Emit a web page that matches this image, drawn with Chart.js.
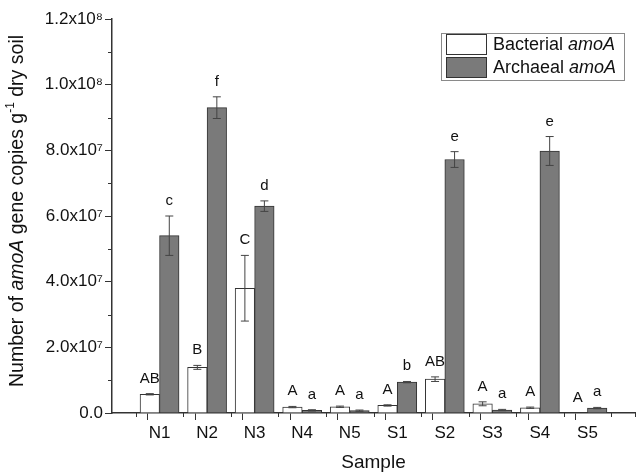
<!DOCTYPE html>
<html>
<head>
<meta charset="utf-8">
<script src="https://cdn.jsdelivr.net/npm/chart.js@4/dist/chart.umd.min.js"></script>
<style>
    html, body { margin: 0; padding: 0; background: #fff; }
    #wrap { width: 638px; height: 474px; }
</style>
</head>
<body>
<div id="wrap"><canvas id="amoaChart"></canvas></div>
<script>
const samples = ['N1', 'N2', 'N3', 'N4', 'N5', 'S1', 'S2', 'S3', 'S4', 'S5'];
const bacterial = [5.7e6, 1.39e7, 3.8e7, 1.8e6, 1.9e6, 2.3e6, 1.03e7, 2.8e6, 1.6e6, 0];
const bacterialErr = [0.2e6, 0.6e6, 1.0e7, 0.2e6, 0.2e6, 0.2e6, 0.7e6, 0.6e6, 0.2e6, 0];
const archaeal = [5.4e7, 9.3e7, 6.3e7, 0.8e6, 0.7e6, 9.4e6, 7.72e7, 0.9e6, 7.98e7, 1.5e6];
const archaealErr = [6.0e6, 3.3e6, 1.6e6, 0.2e6, 0.2e6, 0.2e6, 2.4e6, 0.2e6, 4.4e6, 0.2e6];
const bacterialLetters = ['AB', 'B', 'C', 'A', 'A', 'A', 'AB', 'A', 'A', 'A'];
const archaealLetters = ['c', 'f', 'd', 'a', 'a', 'b', 'e', 'a', 'e', 'a'];
const yTickLabels = ['0.0', '2.0x10\u2077', '4.0x10\u2077', '6.0x10\u2077', '8.0x10\u2077', '1.0x10\u2078', '1.2x10\u2078'];

const FONT = '"Liberation Sans", Arial, sans-serif';
const AXIS = '#333';
const errors = [bacterialErr, archaealErr];
const letters = [bacterialLetters, archaealLetters];

function isMajorX(v) {
    return Number.isInteger(v) && v <= samples.length;
}
function isMajorY(v) {
    return Math.round(v / 1e7) % 2 == 0;
}

// error bars + significance letters
const errorBarPlugin = {
    id: 'errorBars',
    afterDatasetsDraw(chart) {
        const ctx = chart.ctx;
        const y = chart.scales.y;
        ctx.save();
        for (let d = 0; d < chart.data.datasets.length; d++) {
            const meta = chart.getDatasetMeta(d);
            const vals = d == 0 ? bacterial : archaeal;
            for (let i = 0; i < meta.data.length; i++) {
                const bar = meta.data[i];
                const err = errors[d][i];
                const top = y.getPixelForValue(vals[i] + err);
                const bot = y.getPixelForValue(Math.max(vals[i] - err, 0));
                if (err > 0) {
                    ctx.strokeStyle = '#444';
                    ctx.lineWidth = 1;
                    ctx.beginPath();
                    ctx.moveTo(bar.x, top);
                    ctx.lineTo(bar.x, bot);
                    ctx.moveTo(bar.x - 4, top);
                    ctx.lineTo(bar.x + 4, top);
                    ctx.moveTo(bar.x - 4, bot);
                    ctx.lineTo(bar.x + 4, bot);
                    ctx.stroke();
                }
                ctx.fillStyle = '#111';
                ctx.font = '15px ' + FONT;
                ctx.textAlign = 'center';
                ctx.textBaseline = 'alphabetic';
                ctx.fillText(letters[d][i], bar.x, top - 11);
            }
        }
        ctx.restore();
    }
};

// draw a run of text pieces with mixed styles
function drawPieces(ctx, pieces, x, y) {
    let cx = x;
    for (const p of pieces) {
        ctx.font = p.font;
        ctx.fillText(p.text, cx, y + (p.dy || 0));
        cx += ctx.measureText(p.text).width;
    }
    return cx;
}

function piecesWidth(ctx, pieces) {
    let w = 0;
    for (const p of pieces) {
        ctx.font = p.font;
        w += ctx.measureText(p.text).width;
    }
    return w;
}

const decorPlugin = {
    id: 'decor',
    afterDraw(chart) {
        const ctx = chart.ctx;
        const area = chart.chartArea;
        const xs = chart.scales.x;
        const ys = chart.scales.y;
        ctx.save();

        // short minor ticks
        ctx.strokeStyle = AXIS;
        ctx.lineWidth = 1;
        ctx.beginPath();
        xs.ticks.forEach(t => {
            if (!isMajorX(t.value)) {
                const px = Math.round(xs.getPixelForValue(t.value)) + 0.5;
                ctx.moveTo(px, area.bottom);
                ctx.lineTo(px, area.bottom + 4);
            }
        });
        ys.ticks.forEach(t => {
            if (!isMajorY(t.value)) {
                const py = Math.round(ys.getPixelForValue(t.value)) + 0.5;
                ctx.moveTo(area.left, py);
                ctx.lineTo(area.left - 4, py);
            }
        });
        ctx.stroke();

        ctx.fillStyle = '#111';
        ctx.textBaseline = 'middle';
        ctx.textAlign = 'left';

        // y axis title
        const titlePieces = [
            { text: 'Number of ', font: '19.5px ' + FONT },
            { text: 'amoA', font: 'italic 19.5px ' + FONT },
            { text: ' gene copies g', font: '19.5px ' + FONT },
            { text: '-1', font: '12px ' + FONT, dy: -7 },
            { text: ' dry soil', font: '19.5px ' + FONT }
        ];
        const tw = piecesWidth(ctx, titlePieces);
        ctx.translate(18, (area.top + area.bottom) / 2 - 5);
        ctx.rotate(-Math.PI / 2);
        drawPieces(ctx, titlePieces, -tw / 2, 0);
        ctx.setTransform(1, 0, 0, 1, 0, 0);

        // legend
        ctx.strokeStyle = '#8a8a8a';
        ctx.lineWidth = 1;
        ctx.strokeRect(441.5, 33.5, 183, 47);
        const rows = [
            { label: 'Bacterial ', fill: '#ffffff', y: 34 },
            { label: 'Archaeal ', fill: '#7a7a7a', y: 57 }
        ];
        for (const r of rows) {
            ctx.fillStyle = r.fill;
            ctx.fillRect(446, r.y, 41, 21);
            ctx.strokeStyle = '#333';
            ctx.strokeRect(446.5, r.y + 0.5, 40, 20);
            ctx.fillStyle = '#111';
            drawPieces(ctx, [
                { text: r.label, font: '18px ' + FONT },
                { text: 'amoA', font: 'italic 18px ' + FONT }
            ], 493, r.y + 11);
        }
        ctx.restore();
    }
};

const ctx = document.getElementById('amoaChart').getContext('2d');

const chart = new Chart(ctx, {
    type: 'bar',
    data: {
        datasets: [{
                label: 'Bacterial amoA',
                data: bacterial.map((v, i) => ({ x: i + 1, y: v })),
                backgroundColor: '#ffffff',
                borderColor: '#333333',
                borderWidth: 1
            },
            {
                label: 'Archaeal amoA',
                data: archaeal.map((v, i) => ({ x: i + 1, y: v })),
                backgroundColor: '#7a7a7a',
                borderColor: '#333333',
                borderWidth: 1
            }]
    },
    options: {
        responsive: true,
        maintainAspectRatio: false,
        animation: false,
        barThickness: 19.5,
        layout: { padding: { top: 19, right: 0, bottom: 0, left: 0 } },
        plugins: {
            legend: { display: false },
            tooltip: { enabled: false }
        },
        scales: {
            x: {
                type: 'linear',
                min: 0,
                max: 11,
                offset: false,
                grid: {
                    display: true,
                    drawOnChartArea: false,
                    tickLength: 7,
                    color: AXIS,
                    tickColor: c => (!c.tick || isMajorX(c.tick.value)) ? AXIS : 'rgba(0,0,0,0)'
                },
                border: { color: AXIS, width: 1.5 },
                ticks: {
                    stepSize: 0.5,
                    autoSkip: false,
                    maxRotation: 0,
                    padding: 3,
                    color: '#111',
                    font: { family: FONT, size: 17 },
                    callback: function(v) {
                        if (Number.isInteger(v) && v >= 1 && v <= samples.length) {
                            return samples[v - 1];
                        }
                        return '';
                    }
                },
                title: {
                    display: true,
                    text: 'Sample',
                    color: '#111',
                    font: { family: FONT, size: 19 },
                    padding: { top: 0, bottom: 0 }
                },
                afterFit: function(scale) { scale.height = 61; }
            },
            y: {
                min: 0,
                max: 1.2e8,
                grid: {
                    display: true,
                    drawOnChartArea: false,
                    tickLength: 7,
                    color: AXIS,
                    tickColor: c => (!c.tick || isMajorY(c.tick.value)) ? AXIS : 'rgba(0,0,0,0)'
                },
                border: { color: AXIS, width: 1.5 },
                ticks: {
                    stepSize: 1e7,
                    autoSkip: false,
                    padding: 2,
                    color: '#111',
                    font: { family: FONT, size: 17 },
                    callback: function(v) {
                        const k = Math.round(v / 1e7);
                        if (k % 2 == 0) {
                            return yTickLabels[k / 2];
                        }
                        return '';
                    }
                },
                afterFit: function(scale) { scale.width = 112; }
            }
        }
    },
    plugins: [errorBarPlugin, decorPlugin]
});
</script>
</body>
</html>
